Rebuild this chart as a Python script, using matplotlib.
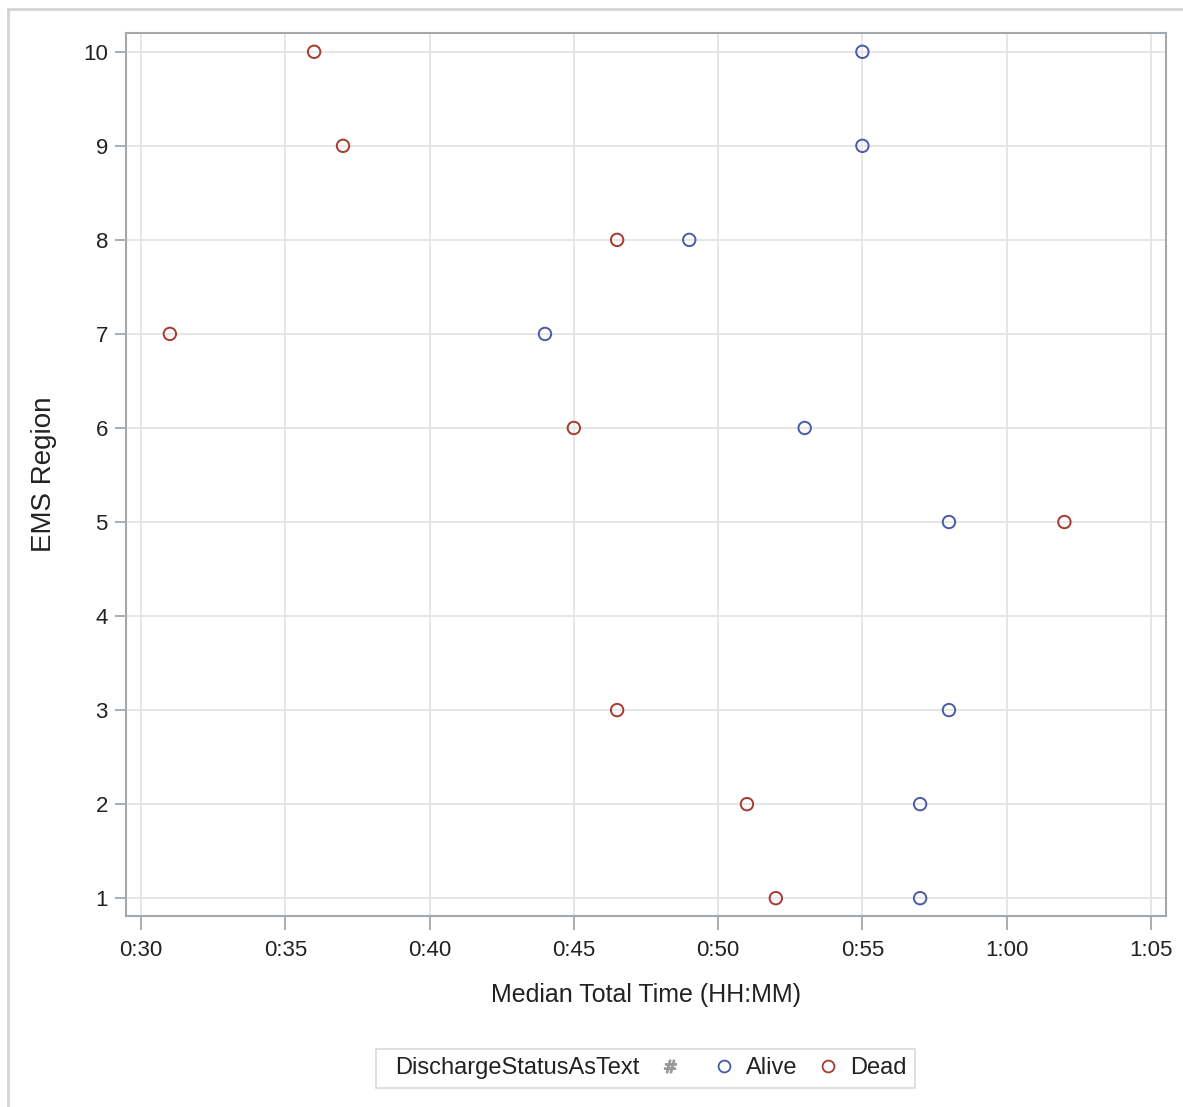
import matplotlib
matplotlib.use("Agg")
import matplotlib.pyplot as plt
from matplotlib.lines import Line2D
from matplotlib.ticker import FuncFormatter

# EMS region and median total time (minutes) by discharge status
regions_alive = [10, 9, 8, 7, 6, 5, 3, 2, 1]
minutes_alive = [55, 55, 49, 44, 53, 58, 58, 57, 57]
regions_dead = [10, 9, 8, 7, 6, 5, 3, 2, 1]
minutes_dead = [36, 37, 46.5, 31, 45, 62, 46.5, 51, 52]
x_ticks = [30, 35, 40, 45, 50, 55, 60, 65]
y_ticks = [1, 2, 3, 4, 5, 6, 7, 8, 9, 10]

sans = ['Liberation Sans', 'DejaVu Sans']
blue = '#4a5aa8'
red = '#a8392f'

fig = plt.figure(figsize=(11.83, 11.07), dpi=100)
ax = fig.add_axes([0.1065, 0.1725, 0.8791, 0.7977])

ax.scatter(minutes_alive, regions_alive, s=80, facecolors='none',
           edgecolors=blue, linewidths=1.4, zorder=3)
ax.scatter(minutes_dead, regions_dead, s=80, facecolors='none',
           edgecolors=red, linewidths=1.4, zorder=3)

ax.set_xlim(29.48, 65.52)
ax.set_ylim(0.81, 10.2)
ax.set_xticks(x_ticks)
ax.set_yticks(y_ticks)
ax.xaxis.set_major_formatter(FuncFormatter(lambda v, p: "%d:%02d" % (v // 60, v % 60)))
ax.grid(True, color='#e4e4e4', linewidth=1.3)
ax.set_axisbelow(True)
for s in ax.spines.values():
    s.set_color('#a3a8ad')
    s.set_linewidth(1.5)
ax.tick_params(axis='x', length=10, width=1.3, color='#a3a8ad', pad=7)
ax.tick_params(axis='y', length=8, width=1.3, color='#a3a8ad', pad=5)
for lab in ax.get_xticklabels() + ax.get_yticklabels():
    lab.set_family(sans)
    lab.set_fontsize(16)
    lab.set_color('#222222')

ax.set_xlabel('Median Total Time (HH:MM)', family=sans, fontsize=18, labelpad=16,
              color='#222222')
ax.set_ylabel('EMS Region', family=sans, fontsize=20, labelpad=19, color='#222222')

handles = [
    Line2D([], [], linestyle='none', marker=None),
    Line2D([], [], linestyle='none', marker='$\\#$', color='#999999', markersize=9),
    Line2D([], [], linestyle='none', marker='o', markerfacecolor='none',
           markeredgecolor=blue, markersize=8.5, markeredgewidth=1.3),
    Line2D([], [], linestyle='none', marker='o', markerfacecolor='none',
           markeredgecolor=red, markersize=8.5, markeredgewidth=1.3),
]
labels = ['DischargeStatusAsText', '', 'Alive', 'Dead']
leg = fig.legend(handles, labels, loc='center', bbox_to_anchor=(0.546, 0.035),
                 ncol=4, frameon=True, fancybox=False, handlelength=1.0,
                 handletextpad=0.45, columnspacing=0.8, borderpad=0.35,
                 prop={'family': sans, 'size': 17})
leg.get_frame().set_edgecolor('#cfcfcf')
leg.get_frame().set_linewidth(1.2)
for t in leg.get_texts():
    t.set_color('#222222')
# drop the empty handle slot in front of the group title
first_row = leg._legend_handle_box.get_children()[0].get_children()[0]
first_row.get_children()[0].width = 0

# outer frame lines (left and top)
fig.add_artist(Line2D([0.0068, 0.0068], [0.0, 0.9919], transform=fig.transFigure,
                      color='#d4d4d4', linewidth=2))
fig.add_artist(Line2D([0.0068, 1.0], [0.9919, 0.9919], transform=fig.transFigure,
                      color='#d4d4d4', linewidth=2))

fig.savefig('out.png', dpi=100)
